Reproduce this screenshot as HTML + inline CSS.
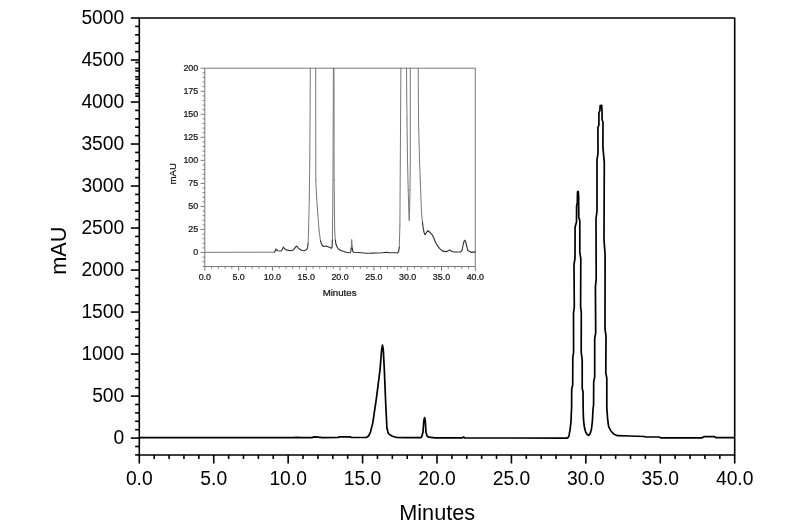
<!DOCTYPE html>
<html><head><meta charset="utf-8"><title>Chromatogram</title>
<style>html,body{margin:0;padding:0;background:#fff;}body{width:800px;height:532px;overflow:hidden;}svg{display:block;font-family:"Liberation Sans",sans-serif;will-change:transform;}</style></head><body>
<svg width="800" height="532" viewBox="0 0 800 532">
<rect x="0" y="0" width="800" height="532" fill="#ffffff"/>
<g stroke="#000" stroke-width="1.6" fill="none" stroke-linecap="butt" stroke-linejoin="round">
<rect x="139.3" y="18.0" width="595.40" height="437.00"/>
<line x1="135.10" y1="454.90" x2="139.30" y2="454.90"/>
<line x1="135.10" y1="446.50" x2="139.30" y2="446.50"/>
<line x1="130.80" y1="438.10" x2="139.30" y2="438.10"/>
<line x1="135.10" y1="429.70" x2="139.30" y2="429.70"/>
<line x1="135.10" y1="421.30" x2="139.30" y2="421.30"/>
<line x1="135.10" y1="412.89" x2="139.30" y2="412.89"/>
<line x1="135.10" y1="404.49" x2="139.30" y2="404.49"/>
<line x1="130.80" y1="396.09" x2="139.30" y2="396.09"/>
<line x1="135.10" y1="387.69" x2="139.30" y2="387.69"/>
<line x1="135.10" y1="379.29" x2="139.30" y2="379.29"/>
<line x1="135.10" y1="370.88" x2="139.30" y2="370.88"/>
<line x1="135.10" y1="362.48" x2="139.30" y2="362.48"/>
<line x1="130.80" y1="354.08" x2="139.30" y2="354.08"/>
<line x1="135.10" y1="345.68" x2="139.30" y2="345.68"/>
<line x1="135.10" y1="337.28" x2="139.30" y2="337.28"/>
<line x1="135.10" y1="328.87" x2="139.30" y2="328.87"/>
<line x1="135.10" y1="320.47" x2="139.30" y2="320.47"/>
<line x1="130.80" y1="312.07" x2="139.30" y2="312.07"/>
<line x1="135.10" y1="303.67" x2="139.30" y2="303.67"/>
<line x1="135.10" y1="295.27" x2="139.30" y2="295.27"/>
<line x1="135.10" y1="286.86" x2="139.30" y2="286.86"/>
<line x1="135.10" y1="278.46" x2="139.30" y2="278.46"/>
<line x1="130.80" y1="270.06" x2="139.30" y2="270.06"/>
<line x1="135.10" y1="261.66" x2="139.30" y2="261.66"/>
<line x1="135.10" y1="253.26" x2="139.30" y2="253.26"/>
<line x1="135.10" y1="244.85" x2="139.30" y2="244.85"/>
<line x1="135.10" y1="236.45" x2="139.30" y2="236.45"/>
<line x1="130.80" y1="228.05" x2="139.30" y2="228.05"/>
<line x1="135.10" y1="219.65" x2="139.30" y2="219.65"/>
<line x1="135.10" y1="211.25" x2="139.30" y2="211.25"/>
<line x1="135.10" y1="202.84" x2="139.30" y2="202.84"/>
<line x1="135.10" y1="194.44" x2="139.30" y2="194.44"/>
<line x1="130.80" y1="186.04" x2="139.30" y2="186.04"/>
<line x1="135.10" y1="177.64" x2="139.30" y2="177.64"/>
<line x1="135.10" y1="169.24" x2="139.30" y2="169.24"/>
<line x1="135.10" y1="160.83" x2="139.30" y2="160.83"/>
<line x1="135.10" y1="152.43" x2="139.30" y2="152.43"/>
<line x1="130.80" y1="144.03" x2="139.30" y2="144.03"/>
<line x1="135.10" y1="135.63" x2="139.30" y2="135.63"/>
<line x1="135.10" y1="127.23" x2="139.30" y2="127.23"/>
<line x1="135.10" y1="118.82" x2="139.30" y2="118.82"/>
<line x1="135.10" y1="110.42" x2="139.30" y2="110.42"/>
<line x1="130.80" y1="102.02" x2="139.30" y2="102.02"/>
<line x1="135.10" y1="93.62" x2="139.30" y2="93.62"/>
<line x1="135.10" y1="85.22" x2="139.30" y2="85.22"/>
<line x1="135.10" y1="76.81" x2="139.30" y2="76.81"/>
<line x1="135.10" y1="68.41" x2="139.30" y2="68.41"/>
<line x1="130.80" y1="60.01" x2="139.30" y2="60.01"/>
<line x1="135.10" y1="51.61" x2="139.30" y2="51.61"/>
<line x1="135.10" y1="43.21" x2="139.30" y2="43.21"/>
<line x1="135.10" y1="34.80" x2="139.30" y2="34.80"/>
<line x1="135.10" y1="26.40" x2="139.30" y2="26.40"/>
<line x1="130.80" y1="18.00" x2="139.30" y2="18.00"/>
<line x1="135.30" y1="62.51" x2="139.30" y2="62.51"/>
<line x1="135.30" y1="70.91" x2="139.30" y2="70.91"/>
<line x1="135.30" y1="79.31" x2="139.30" y2="79.31"/>
<line x1="135.30" y1="87.72" x2="139.30" y2="87.72"/>
<line x1="135.30" y1="96.12" x2="139.30" y2="96.12"/>
<line x1="139.30" y1="455.00" x2="139.30" y2="463.50"/>
<line x1="154.19" y1="455.00" x2="154.19" y2="459.00"/>
<line x1="169.07" y1="455.00" x2="169.07" y2="459.00"/>
<line x1="183.96" y1="455.00" x2="183.96" y2="459.00"/>
<line x1="198.84" y1="455.00" x2="198.84" y2="459.00"/>
<line x1="213.73" y1="455.00" x2="213.73" y2="463.50"/>
<line x1="228.61" y1="455.00" x2="228.61" y2="459.00"/>
<line x1="243.50" y1="455.00" x2="243.50" y2="459.00"/>
<line x1="258.38" y1="455.00" x2="258.38" y2="459.00"/>
<line x1="273.26" y1="455.00" x2="273.26" y2="459.00"/>
<line x1="288.15" y1="455.00" x2="288.15" y2="463.50"/>
<line x1="303.04" y1="455.00" x2="303.04" y2="459.00"/>
<line x1="317.92" y1="455.00" x2="317.92" y2="459.00"/>
<line x1="332.81" y1="455.00" x2="332.81" y2="459.00"/>
<line x1="347.69" y1="455.00" x2="347.69" y2="459.00"/>
<line x1="362.58" y1="455.00" x2="362.58" y2="463.50"/>
<line x1="377.46" y1="455.00" x2="377.46" y2="459.00"/>
<line x1="392.35" y1="455.00" x2="392.35" y2="459.00"/>
<line x1="407.23" y1="455.00" x2="407.23" y2="459.00"/>
<line x1="422.12" y1="455.00" x2="422.12" y2="459.00"/>
<line x1="437.00" y1="455.00" x2="437.00" y2="463.50"/>
<line x1="451.89" y1="455.00" x2="451.89" y2="459.00"/>
<line x1="466.77" y1="455.00" x2="466.77" y2="459.00"/>
<line x1="481.66" y1="455.00" x2="481.66" y2="459.00"/>
<line x1="496.54" y1="455.00" x2="496.54" y2="459.00"/>
<line x1="511.43" y1="455.00" x2="511.43" y2="463.50"/>
<line x1="526.31" y1="455.00" x2="526.31" y2="459.00"/>
<line x1="541.20" y1="455.00" x2="541.20" y2="459.00"/>
<line x1="556.08" y1="455.00" x2="556.08" y2="459.00"/>
<line x1="570.97" y1="455.00" x2="570.97" y2="459.00"/>
<line x1="585.85" y1="455.00" x2="585.85" y2="463.50"/>
<line x1="600.74" y1="455.00" x2="600.74" y2="459.00"/>
<line x1="615.62" y1="455.00" x2="615.62" y2="459.00"/>
<line x1="630.51" y1="455.00" x2="630.51" y2="459.00"/>
<line x1="645.39" y1="455.00" x2="645.39" y2="459.00"/>
<line x1="660.28" y1="455.00" x2="660.28" y2="463.50"/>
<line x1="675.16" y1="455.00" x2="675.16" y2="459.00"/>
<line x1="690.05" y1="455.00" x2="690.05" y2="459.00"/>
<line x1="704.93" y1="455.00" x2="704.93" y2="459.00"/>
<line x1="719.82" y1="455.00" x2="719.82" y2="459.00"/>
<line x1="734.70" y1="455.00" x2="734.70" y2="463.50"/>
</g>
<g fill="#000" font-size="19.3px">
<text x="124.3" y="443.60" text-anchor="end">0</text>
<text x="124.3" y="401.59" text-anchor="end">500</text>
<text x="124.3" y="359.58" text-anchor="end">1000</text>
<text x="124.3" y="317.57" text-anchor="end">1500</text>
<text x="124.3" y="275.56" text-anchor="end">2000</text>
<text x="124.3" y="233.55" text-anchor="end">2500</text>
<text x="124.3" y="191.54" text-anchor="end">3000</text>
<text x="124.3" y="149.53" text-anchor="end">3500</text>
<text x="124.3" y="107.52" text-anchor="end">4000</text>
<text x="124.3" y="65.51" text-anchor="end">4500</text>
<text x="124.3" y="23.50" text-anchor="end">5000</text>
<text x="139.30" y="484.8" text-anchor="middle">0.0</text>
<text x="213.73" y="484.8" text-anchor="middle">5.0</text>
<text x="288.15" y="484.8" text-anchor="middle">10.0</text>
<text x="362.58" y="484.8" text-anchor="middle">15.0</text>
<text x="437.00" y="484.8" text-anchor="middle">20.0</text>
<text x="511.43" y="484.8" text-anchor="middle">25.0</text>
<text x="585.85" y="484.8" text-anchor="middle">30.0</text>
<text x="660.28" y="484.8" text-anchor="middle">35.0</text>
<text x="734.70" y="484.8" text-anchor="middle">40.0</text>
</g>
<text x="437.2" y="520.2" font-size="21.7px" text-anchor="middle" fill="#000">Minutes</text>
<text transform="translate(66.4,250.7) rotate(-90)" font-size="21.7px" text-anchor="middle" fill="#000">mAU</text>
<path d="M139.3,437.7 L292.0,437.7 L298.0,437.3 L300.0,437.7 L312.0,437.6 L314.0,436.9 L318.0,437.2 L322.0,437.6 L338.0,437.5 L339.5,436.8 L350.0,436.8 L351.5,437.5 L362.0,437.5 L366.7,437.3 L368.5,436.0 L370.3,432.6 L372.8,422.9 L376.4,398.4 L380.1,369.1 L381.6,350.0 L382.5,345.2 L383.3,350.0 L384.3,369.1 L385.7,403.3 L386.9,427.8 L388.0,432.4 L388.7,433.9 L392.3,436.3 L396.0,437.3 L405.0,437.6 L420.6,437.6 L421.6,437.0 L422.9,432.6 L423.8,421.0 L424.6,417.5 L425.3,421.0 L426.0,432.6 L427.3,436.5 L429.0,437.1 L435.0,437.8 L462.0,437.9 L463.5,437.0 L465.0,437.9 L566.7,438.1 L568.0,437.6 L568.9,436.2 L570.0,430.1 L571.0,421.6 L571.4,411.3 L571.6,408.0 L571.7,389.0 L572.7,385.0 L572.8,357.5 L573.6,352.0 L573.5,313.0 L574.3,307.0 L574.0,264.5 L575.0,258.0 L575.1,227.0 L576.5,222.0 L576.6,206.0 L577.3,203.0 L577.5,192.0 L578.2,191.4 L578.6,195.0 L578.8,217.5 L579.8,220.5 L579.8,252.4 L580.8,258.6 L580.6,306.3 L581.3,312.5 L581.2,352.0 L582.2,360.2 L582.2,388.3 L583.0,391.7 L583.2,411.3 L583.5,419.0 L584.2,426.0 L585.4,431.3 L587.0,434.4 L588.6,435.3 L590.2,433.6 L591.5,429.0 L592.4,421.0 L593.0,409.5 L593.6,404.5 L593.7,381.6 L594.7,377.0 L594.7,338.4 L595.7,332.8 L595.4,286.8 L596.2,279.5 L596.0,218.8 L597.0,211.0 L597.0,159.3 L598.0,153.7 L597.9,127.5 L598.9,125.0 L598.9,113.0 L599.9,110.5 L600.2,105.6 L601.7,105.4 L602.0,111.0 L602.1,120.0 L603.0,122.0 L602.9,146.9 L604.3,162.7 L604.0,240.0 L605.1,254.7 L605.0,328.8 L606.0,336.2 L605.8,372.6 L606.8,378.2 L606.8,407.5 L607.6,418.8 L608.6,426.3 L610.9,431.0 L614.2,434.3 L617.5,435.7 L630.0,436.0 L644.2,436.5 L646.0,437.0 L659.0,437.0 L660.5,437.8 L702.0,437.8 L704.0,436.7 L714.5,436.7 L716.0,437.7 L734.7,437.7" fill="none" stroke="#000" stroke-width="1.7" stroke-linejoin="round" stroke-linecap="butt"/>
<g stroke="#7a7a7a" stroke-width="1" fill="none">
<rect x="204.8" y="68.2" width="270.50" height="198.30"/>
<line x1="202.60" y1="266.32" x2="204.80" y2="266.32"/>
<line x1="202.60" y1="261.71" x2="204.80" y2="261.71"/>
<line x1="202.60" y1="257.11" x2="204.80" y2="257.11"/>
<line x1="200.60" y1="252.50" x2="204.80" y2="252.50"/>
<line x1="202.60" y1="247.89" x2="204.80" y2="247.89"/>
<line x1="202.60" y1="243.28" x2="204.80" y2="243.28"/>
<line x1="202.60" y1="238.68" x2="204.80" y2="238.68"/>
<line x1="202.60" y1="234.07" x2="204.80" y2="234.07"/>
<line x1="200.60" y1="229.46" x2="204.80" y2="229.46"/>
<line x1="202.60" y1="224.85" x2="204.80" y2="224.85"/>
<line x1="202.60" y1="220.25" x2="204.80" y2="220.25"/>
<line x1="202.60" y1="215.64" x2="204.80" y2="215.64"/>
<line x1="202.60" y1="211.03" x2="204.80" y2="211.03"/>
<line x1="200.60" y1="206.43" x2="204.80" y2="206.43"/>
<line x1="202.60" y1="201.82" x2="204.80" y2="201.82"/>
<line x1="202.60" y1="197.21" x2="204.80" y2="197.21"/>
<line x1="202.60" y1="192.60" x2="204.80" y2="192.60"/>
<line x1="202.60" y1="188.00" x2="204.80" y2="188.00"/>
<line x1="200.60" y1="183.39" x2="204.80" y2="183.39"/>
<line x1="202.60" y1="178.78" x2="204.80" y2="178.78"/>
<line x1="202.60" y1="174.17" x2="204.80" y2="174.17"/>
<line x1="202.60" y1="169.56" x2="204.80" y2="169.56"/>
<line x1="202.60" y1="164.96" x2="204.80" y2="164.96"/>
<line x1="200.60" y1="160.35" x2="204.80" y2="160.35"/>
<line x1="202.60" y1="155.74" x2="204.80" y2="155.74"/>
<line x1="202.60" y1="151.13" x2="204.80" y2="151.13"/>
<line x1="202.60" y1="146.53" x2="204.80" y2="146.53"/>
<line x1="202.60" y1="141.92" x2="204.80" y2="141.92"/>
<line x1="200.60" y1="137.31" x2="204.80" y2="137.31"/>
<line x1="202.60" y1="132.70" x2="204.80" y2="132.70"/>
<line x1="202.60" y1="128.10" x2="204.80" y2="128.10"/>
<line x1="202.60" y1="123.49" x2="204.80" y2="123.49"/>
<line x1="202.60" y1="118.88" x2="204.80" y2="118.88"/>
<line x1="200.60" y1="114.27" x2="204.80" y2="114.27"/>
<line x1="202.60" y1="109.67" x2="204.80" y2="109.67"/>
<line x1="202.60" y1="105.06" x2="204.80" y2="105.06"/>
<line x1="202.60" y1="100.45" x2="204.80" y2="100.45"/>
<line x1="202.60" y1="95.84" x2="204.80" y2="95.84"/>
<line x1="200.60" y1="91.24" x2="204.80" y2="91.24"/>
<line x1="202.60" y1="86.63" x2="204.80" y2="86.63"/>
<line x1="202.60" y1="82.02" x2="204.80" y2="82.02"/>
<line x1="202.60" y1="77.41" x2="204.80" y2="77.41"/>
<line x1="202.60" y1="72.81" x2="204.80" y2="72.81"/>
<line x1="200.60" y1="68.20" x2="204.80" y2="68.20"/>
<line x1="204.80" y1="266.50" x2="204.80" y2="270.70"/>
<line x1="211.56" y1="266.50" x2="211.56" y2="268.70"/>
<line x1="218.33" y1="266.50" x2="218.33" y2="268.70"/>
<line x1="225.09" y1="266.50" x2="225.09" y2="268.70"/>
<line x1="231.85" y1="266.50" x2="231.85" y2="268.70"/>
<line x1="238.61" y1="266.50" x2="238.61" y2="270.70"/>
<line x1="245.38" y1="266.50" x2="245.38" y2="268.70"/>
<line x1="252.14" y1="266.50" x2="252.14" y2="268.70"/>
<line x1="258.90" y1="266.50" x2="258.90" y2="268.70"/>
<line x1="265.66" y1="266.50" x2="265.66" y2="268.70"/>
<line x1="272.43" y1="266.50" x2="272.43" y2="270.70"/>
<line x1="279.19" y1="266.50" x2="279.19" y2="268.70"/>
<line x1="285.95" y1="266.50" x2="285.95" y2="268.70"/>
<line x1="292.71" y1="266.50" x2="292.71" y2="268.70"/>
<line x1="299.48" y1="266.50" x2="299.48" y2="268.70"/>
<line x1="306.24" y1="266.50" x2="306.24" y2="270.70"/>
<line x1="313.00" y1="266.50" x2="313.00" y2="268.70"/>
<line x1="319.76" y1="266.50" x2="319.76" y2="268.70"/>
<line x1="326.53" y1="266.50" x2="326.53" y2="268.70"/>
<line x1="333.29" y1="266.50" x2="333.29" y2="268.70"/>
<line x1="340.05" y1="266.50" x2="340.05" y2="270.70"/>
<line x1="346.81" y1="266.50" x2="346.81" y2="268.70"/>
<line x1="353.58" y1="266.50" x2="353.58" y2="268.70"/>
<line x1="360.34" y1="266.50" x2="360.34" y2="268.70"/>
<line x1="367.10" y1="266.50" x2="367.10" y2="268.70"/>
<line x1="373.86" y1="266.50" x2="373.86" y2="270.70"/>
<line x1="380.62" y1="266.50" x2="380.62" y2="268.70"/>
<line x1="387.39" y1="266.50" x2="387.39" y2="268.70"/>
<line x1="394.15" y1="266.50" x2="394.15" y2="268.70"/>
<line x1="400.91" y1="266.50" x2="400.91" y2="268.70"/>
<line x1="407.68" y1="266.50" x2="407.68" y2="270.70"/>
<line x1="414.44" y1="266.50" x2="414.44" y2="268.70"/>
<line x1="421.20" y1="266.50" x2="421.20" y2="268.70"/>
<line x1="427.96" y1="266.50" x2="427.96" y2="268.70"/>
<line x1="434.73" y1="266.50" x2="434.73" y2="268.70"/>
<line x1="441.49" y1="266.50" x2="441.49" y2="270.70"/>
<line x1="448.25" y1="266.50" x2="448.25" y2="268.70"/>
<line x1="455.01" y1="266.50" x2="455.01" y2="268.70"/>
<line x1="461.78" y1="266.50" x2="461.78" y2="268.70"/>
<line x1="468.54" y1="266.50" x2="468.54" y2="268.70"/>
<line x1="475.30" y1="266.50" x2="475.30" y2="270.70"/>
</g>
<g fill="#111" font-size="8.9px" stroke="#111" stroke-width="0.22">
<text x="198.2" y="255.20" text-anchor="end">0</text>
<text x="198.2" y="232.16" text-anchor="end">25</text>
<text x="198.2" y="209.12" text-anchor="end">50</text>
<text x="198.2" y="186.09" text-anchor="end">75</text>
<text x="198.2" y="163.05" text-anchor="end">100</text>
<text x="198.2" y="140.01" text-anchor="end">125</text>
<text x="198.2" y="116.97" text-anchor="end">150</text>
<text x="198.2" y="93.94" text-anchor="end">175</text>
<text x="198.2" y="70.90" text-anchor="end">200</text>
<text x="204.80" y="280.0" text-anchor="middle">0.0</text>
<text x="238.61" y="280.0" text-anchor="middle">5.0</text>
<text x="272.43" y="280.0" text-anchor="middle">10.0</text>
<text x="306.24" y="280.0" text-anchor="middle">15.0</text>
<text x="340.05" y="280.0" text-anchor="middle">20.0</text>
<text x="373.86" y="280.0" text-anchor="middle">25.0</text>
<text x="407.68" y="280.0" text-anchor="middle">30.0</text>
<text x="441.49" y="280.0" text-anchor="middle">35.0</text>
<text x="475.30" y="280.0" text-anchor="middle">40.0</text>
</g>
<text x="339.6" y="296.0" font-size="9.7px" text-anchor="middle" fill="#111" stroke="#111" stroke-width="0.22">Minutes</text>
<text transform="translate(176.3,173.7) rotate(-90)" font-size="9.7px" text-anchor="middle" fill="#111" stroke="#111" stroke-width="0.22">mAU</text>
<path d="M204.8,252.3 L274.3,252.2 M308.1,243.0 L308.6,230.7 M308.6,230.7 L309.3,197.0 M309.3,197.0 L309.8,160.0 M309.8,160.0 L310.3,68.2 M315.7,68.2 L315.8,180.0 M315.8,180.0 L316.6,197.0 M316.6,197.0 L317.8,213.8 M317.8,213.8 L319.1,230.7 M319.1,230.7 L320.5,240.9 M332.4,240.0 L333.0,180.0 M333.0,180.0 L333.4,68.2 M334.0,68.2 L334.1,180.0 M334.1,180.0 L334.7,230.7 M334.7,230.7 L335.3,240.0 M351.2,248.0 L351.7,239.9 M351.7,239.9 L352.3,248.0 M399.3,247.2 L399.9,225.0 M399.9,225.0 L400.3,160.0 M400.3,160.0 L400.9,68.2 M406.5,68.2 L407.0,120.0 M407.0,120.0 L407.5,160.0 M407.5,160.0 L408.2,190.0 M408.2,190.0 L408.8,210.0 M408.8,210.0 L409.2,220.3 M409.2,220.3 L409.6,210.0 M409.6,210.0 L410.0,190.0 M410.0,190.0 L410.3,160.0 M410.3,160.0 L410.3,68.2 M418.2,68.2 L418.5,120.0 M418.5,120.0 L419.5,160.0 M419.5,160.0 L420.3,181.0 M420.3,181.0 L421.5,212.0 M421.5,212.0 L422.4,222.0" fill="none" stroke="#777" stroke-width="1.0" stroke-linecap="round"/>
<path d="M274.3,252.2 L275.2,251.0 M275.2,251.0 L276.0,249.0 M276.0,249.0 L276.9,250.2 M276.9,250.2 L277.7,250.7 M277.7,250.7 L281.1,251.0 M281.1,251.0 L282.2,249.6 M282.2,249.6 L283.3,247.1 M283.3,247.1 L284.6,248.6 M284.6,248.6 L286.1,249.9 M286.1,249.9 L290.4,250.7 M290.4,250.7 L292.9,250.2 M292.9,250.2 L294.6,248.4 M294.6,248.4 L296.3,246.0 M296.3,246.0 L297.5,247.0 M297.5,247.0 L298.8,248.5 M298.8,248.5 L301.4,250.2 M301.4,250.2 L303.9,250.7 M303.9,250.7 L306.4,249.7 M306.4,249.7 L307.6,247.7 M307.6,247.7 L308.1,243.0 M320.5,240.9 L321.4,243.8 M321.4,243.8 L322.5,245.6 M322.5,245.6 L324.2,246.5 M324.2,246.5 L326.2,246.0 M326.2,246.0 L329.3,247.3 M329.3,247.3 L331.5,248.2 M331.5,248.2 L332.1,247.0 M332.1,247.0 L332.4,240.0 M335.3,240.0 L336.0,244.3 M336.0,244.3 L337.2,247.2 M337.2,247.2 L338.6,249.3 M338.6,249.3 L341.0,250.6 M341.0,250.6 L344.5,251.7 M344.5,251.7 L348.1,252.7 M348.1,252.7 L350.2,252.5 M350.2,252.5 L350.8,251.5 M350.8,251.5 L351.2,248.0 M352.3,248.0 L352.7,251.3 M352.7,251.3 L353.4,252.2 M353.4,252.2 L359.1,252.5 M359.1,252.5 L366.0,253.2 M366.0,253.2 L371.5,253.1 M371.5,253.1 L382.5,252.8 M382.5,252.8 L386.7,252.3 M386.7,252.3 L389.4,252.8 M389.4,252.8 L397.6,252.8 M397.6,252.8 L398.6,251.6 M398.6,251.6 L399.3,247.2 M422.4,222.0 L423.3,228.6 M423.3,228.6 L424.1,232.6 M424.1,232.6 L425.0,234.8 M425.0,234.8 L426.3,232.8 M426.3,232.8 L427.7,230.7 M427.7,230.7 L429.8,232.2 M429.8,232.2 L432.2,234.8 M432.2,234.8 L433.8,238.0 M433.8,238.0 L435.3,242.0 M435.3,242.0 L437.4,245.6 M437.4,245.6 L439.5,248.3 M439.5,248.3 L441.5,250.2 M441.5,250.2 L443.6,251.4 M443.6,251.4 L446.7,251.6 M446.7,251.6 L448.3,250.8 M448.3,250.8 L449.8,249.9 M449.8,249.9 L451.5,251.2 M451.5,251.2 L454.0,252.0 M454.0,252.0 L460.4,251.9 M460.4,251.9 L462.0,250.5 M462.0,250.5 L463.3,244.0 M463.3,244.0 L464.1,241.2 M464.1,241.2 L464.8,240.4 M464.8,240.4 L465.5,241.2 M465.5,241.2 L466.2,244.0 M466.2,244.0 L467.8,250.6 M467.8,250.6 L471.4,252.4 M471.4,252.4 L475.3,251.9" fill="none" stroke="#2e2e2e" stroke-width="1.1" stroke-linecap="round"/>
</svg></body></html>
